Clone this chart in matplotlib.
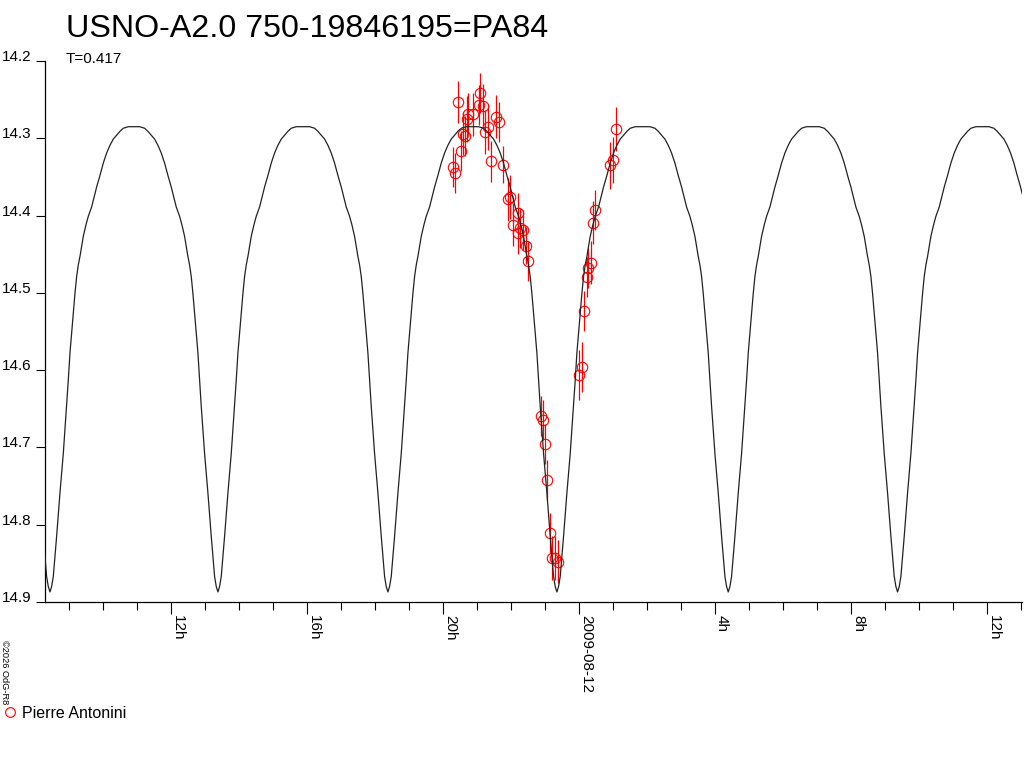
import numpy as np
import matplotlib
matplotlib.use('Agg')
from matplotlib import pyplot as plt
from matplotlib.lines import Line2D

plt.rcParams['font.family'] = ['Liberation Sans', 'DejaVu Sans']

title = 'USNO-A2.0 750-19846195=PA84'
period_label = 'T=0.417'
observer = 'Pierre Antonini'
credit = '\u00a92026 OdG-R8'

# observations: hours since 2009-08-11 00:00 UT, magnitude, error
obs_hours = [20.29, 20.34, 20.44, 20.52, 20.59, 20.64, 20.72, 20.74, 20.88, 21.05,
             21.08, 21.18, 21.23, 21.32, 21.42, 21.57, 21.64, 21.77, 21.92, 21.97,
             22.07, 22.22, 22.22, 22.27, 22.36, 22.44, 22.51, 22.87, 22.95, 23.01,
             23.07, 23.15, 23.20, 23.29, 23.39, 24.01, 24.08, 24.15, 24.23, 24.27,
             24.34, 24.42, 24.47, 24.91, 24.99, 25.09]
obs_mag = [14.337, 14.345, 14.253, 14.316, 14.294, 14.297, 14.275, 14.268, 14.269, 14.257,
           14.241, 14.258, 14.292, 14.285, 14.330, 14.272, 14.279, 14.334, 14.379, 14.376,
           14.412, 14.397, 14.422, 14.416, 14.419, 14.439, 14.459, 14.659, 14.664, 14.696,
           14.742, 14.811, 14.843, 14.843, 14.848, 14.606, 14.596, 14.524, 14.480, 14.468,
           14.461, 14.409, 14.393, 14.335, 14.328, 14.288]
obs_err = [0.026, 0.026, 0.027, 0.026, 0.028, 0.026, 0.030, 0.026, 0.028, 0.026,
           0.026, 0.028, 0.028, 0.030, 0.026, 0.028, 0.026, 0.024, 0.028, 0.028,
           0.028, 0.026, 0.028, 0.026, 0.026, 0.024, 0.026, 0.026, 0.026, 0.026,
           0.026, 0.026, 0.028, 0.028, 0.028, 0.032, 0.032, 0.026, 0.026, 0.026,
           0.028, 0.028, 0.026, 0.030, 0.030, 0.028]

# model light curve, half cycle: hours after a minimum, magnitude
profile_dt = [0.0, 0.049, 0.098, 0.147, 0.196, 0.245, 0.294, 0.343, 0.392, 0.441,
              0.490, 0.539, 0.588, 0.637, 0.686, 0.735, 0.784, 0.833, 0.882, 0.931,
              0.980, 1.059, 1.127, 1.225, 1.373, 1.471, 1.569, 1.667, 1.765, 1.863,
              1.961, 2.059, 2.157, 2.304, 2.451, 2.50]
profile_mag = [14.887, 14.880, 14.867, 14.841, 14.815, 14.787, 14.759, 14.733, 14.708, 14.677,
               14.647, 14.613, 14.578, 14.552, 14.526, 14.501, 14.479, 14.464, 14.453, 14.440,
               14.427, 14.412, 14.401, 14.389, 14.363, 14.348, 14.332, 14.319, 14.309, 14.301,
               14.296, 14.291, 14.287, 14.285, 14.285, 14.285]
min_hours = [8.44, 13.38, 18.38, 23.35, 28.39, 33.37, 38.36]

tick_hours = [12, 16, 20, 24, 28, 32, 36]
tick_labels = ['12h', '16h', '20h', '2009-08-12', '4h', '8h', '12h']
mag_ticks = [14.2, 14.3, 14.4, 14.5, 14.6, 14.7, 14.8, 14.9]

dt = np.array(profile_dt)
pm = np.array(profile_mag)
curve_x, curve_y = [], []
for m in min_hours:
    curve_x.extend(m - dt[::-1])
    curve_y.extend(pm[::-1])
    curve_x.extend(m + dt[1:])
    curve_y.extend(pm[1:])

fig = plt.figure(figsize=(10.24, 7.68), dpi=100)
ax = fig.add_axes([45 / 1024, 1 - 602 / 768, 977 / 1024, 541 / 768])

ax.errorbar(obs_hours, obs_mag, yerr=obs_err, fmt='o', mfc='none', mec='red',
            ecolor='red', ms=7.5, mew=0.8, elinewidth=0.9, capsize=0, zorder=2)
ax.plot(curve_x, curve_y, color='#222222', lw=0.9, zorder=3)

ax.set_xlim(8.294, 37.03)
ax.set_ylim(14.9, 14.2)

for s in ['top', 'right']:
    ax.spines[s].set_visible(False)
for s in ['left', 'bottom']:
    ax.spines[s].set_linewidth(0.9)

ax.set_yticks(mag_ticks)
ax.set_yticklabels(['%.1f' % v for v in mag_ticks])
ax.tick_params(axis='y', length=6.5, width=0.8, pad=3, labelsize=11)
for lab in ax.get_yticklabels():
    lab.set_va('baseline')

ax.set_xticks(tick_hours)
ax.set_xticklabels(tick_labels)
ax.set_xticks(np.arange(9, 38), minor=True)
ax.tick_params(axis='x', which='major', length=8.6, width=0.8, pad=1,
               labelsize=11, labelrotation=-90)
ax.tick_params(axis='x', which='minor', length=5.8, width=0.8)
for lab in ax.get_xticklabels():
    lab.set_ha('left')
    lab.set_va('top')

fig.text(66 / 1024, 1 - 37 / 768, title, fontsize=23.2, va='baseline', ha='left')
fig.text(66 / 1024, 1 - 63 / 768, period_label, fontsize=11, va='baseline', ha='left')
fig.text(4 / 1024, 1 - 640 / 768, credit, fontsize=6.7, rotation=-90,
         ha='center', va='top')

handle = Line2D([], [], marker='o', ls='none', mfc='none', mec='red', ms=7, mew=0.8)
fig.legend(handles=[handle], labels=[observer], loc='center left',
           bbox_to_anchor=(0.0, 1 - 713 / 768), frameon=False, fontsize=11.5,
           handlelength=0.8, handletextpad=0.35, borderaxespad=0, borderpad=0.2)

fig.savefig('out.png', dpi=100)
